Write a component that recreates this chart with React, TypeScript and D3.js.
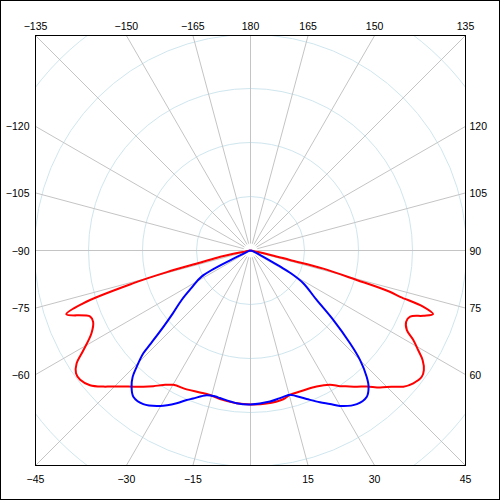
import React from "react";
import * as d3 from "d3";

// Polar angles in degrees: 0 = straight down, positive to the right, 180 = up
const redAngles = [-90, -85, -80, -78.3, -76.5, -75.5, -74.4, -72.5, -70.9, -67.6, -65.6, -62.5, -59.2, -57, -54.9, -52.8, -50, -47.2, -45.9, -42, -38.2, -35.6, -33, -29.9, -24.7, -19.6, -15.7, -11.6, -5.2, 0, 6, 12.4, 15.3, 20.6, 25.9, 30.6, 33.4, 35, 38, 40.5, 43.4, 46, 48.3, 50.8, 53.6, 55.4, 57.5, 59.3, 61.2, 63, 65.4, 67.5, 69.3, 70.8, 72, 72.8, 73.5, 74.5, 76, 76.5, 77.5, 80, 85, 90];
const redValues = [0, 3, 10, 57, 95, 160, 225, 325, 361, 321, 320, 332, 360, 384, 395, 396, 388, 371, 362, 339, 321, 309, 297, 287, 283, 279, 278, 281, 284, 285, 285, 282, 277, 277, 280, 289, 301, 307, 320, 331, 349, 363, 379, 389, 394, 390, 378, 361, 344, 325, 317, 320, 342, 358, 336, 290, 269, 204, 139, 75, 40, 10, 3, 0];

const blueAngles = [-90, -75, -66, -64.5, -62, -57.5, -54.3, -51, -48.8, -47, -46.2, -44.4, -43, -41.1, -38.7, -34.9, -30.2, -25.8, -23.1, -21.2, -16.9, -13.5, -11.7, -5.2, 0, 7.35, 11, 14, 15.3, 20.7, 24.6, 27.4, 29.9, 34.7, 38.5, 40.9, 42.6, 45, 47, 50, 53.2, 58.2, 60.7, 61.5, 65, 75, 90];
const blueValues = [0, 4, 9, 37, 102, 130, 157, 185, 214, 252, 275, 301, 320, 335, 347, 347, 333, 314, 301, 294, 280, 278, 279, 284, 285, 282, 279, 277, 277, 294, 309, 320, 332, 346, 346, 334, 318, 287, 252, 200, 153, 115, 84, 63, 19, 4, 0];

const ringValues = [100, 200, 300, 400, 500];
const spokeAngles = [-165, -150, -135, -120, -105, -90, -75, -60, -45, -30, -15, 0, 15, 30, 45, 60, 75, 90, 105, 120, 135, 150, 165, 180];
const labelAngles = [-135, -150, -165, 180, 165, 150, 135, -120, -105, -90, -75, -60, 120, 105, 90, 75, 60, -45, -30, -15, 15, 30, 45];

const W = 500;
const H = 500;
const CX = 250.5;
const CY = 250.5;
const HALF = 215;
const rScale = d3.scaleLinear().domain([0, 100]).range([0, 54]);
const rad = (deg: number) => (deg * Math.PI) / 180;

function edgePoint(theta: number) {
  const s = Math.sin(rad(theta));
  const c = Math.cos(rad(theta));
  const t = HALF / Math.max(Math.abs(s), Math.abs(c));
  return { x: CX + t * s, y: CY + t * c, s, c };
}

function labelText(a: number) {
  return a < 0 ? "\u2212" + Math.abs(a) : String(a);
}

export default function App() {
  const line = d3
    .lineRadial<[number, number]>()
    .angle((d) => rad(180 - d[0]))
    .radius((d) => rScale(d[1]))
    .curve(d3.curveCatmullRom.alpha(0.5));

  const redPts: [number, number][] = redAngles.map((a, i) => [a, redValues[i]]);
  const bluePts: [number, number][] = blueAngles.map((a, i) => [a, blueValues[i]]);

  const fontFamily = "'Liberation Sans', Arial, sans-serif";

  return (
    <svg
      width={W}
      height={H}
      style={{ position: "absolute", left: 0, top: 0, background: "#fff" }}
    >
      <defs>
        <clipPath id="plotClip">
          <rect x={CX - HALF} y={CY - HALF} width={2 * HALF} height={2 * HALF} />
        </clipPath>
      </defs>
      <rect x={0.5} y={0.5} width={499} height={499} fill="#fff" stroke="#000" strokeWidth={1} />
      <g clipPath="url(#plotClip)">
        {ringValues.map((v) => (
          <circle key={v} cx={CX} cy={CY} r={rScale(v)} fill="none" stroke="#cfe6ee" strokeWidth={1} />
        ))}
        {spokeAngles.map((a) => {
          const e = edgePoint(a);
          return (
            <line
              key={a}
              x1={CX + 7 * e.s}
              y1={CY + 7 * e.c}
              x2={e.x}
              y2={e.y}
              stroke="#c4c4c4"
              strokeWidth={1}
            />
          );
        })}
      </g>
      <rect x={CX - HALF} y={CY - HALF} width={2 * HALF} height={2 * HALF} fill="none" stroke="#000" strokeWidth={1} />
      <g transform={`translate(${CX},${CY})`}>
        <path d={line(redPts) || ""} fill="none" stroke="#ff0000" strokeWidth={2} strokeLinejoin="round" />
        <path d={line(bluePts) || ""} fill="none" stroke="#0000ff" strokeWidth={2} strokeLinejoin="round" />
      </g>
      <g fontFamily={fontFamily} fontSize={10.5} fill="#000">
        {labelAngles.map((a) => {
          const e = edgePoint(a);
          const eps = 1e-6;
          let x = e.x;
          let y = e.y;
          let anchor: "start" | "middle" | "end" = "middle";
          if (e.c <= -Math.SQRT1_2 + eps) {
            y = CY - HALF - 10;
          } else if (e.c >= Math.SQRT1_2 - eps) {
            y = CY + HALF + 13;
          } else if (e.s < 0) {
            x = CX - HALF - 6;
            anchor = "end";
          } else {
            x = CX + HALF + 4;
            anchor = "start";
          }
          return (
            <text key={a} x={x} y={y} textAnchor={anchor} dominantBaseline="central">
              {labelText(a)}
            </text>
          );
        })}
      </g>
    </svg>
  );
}
